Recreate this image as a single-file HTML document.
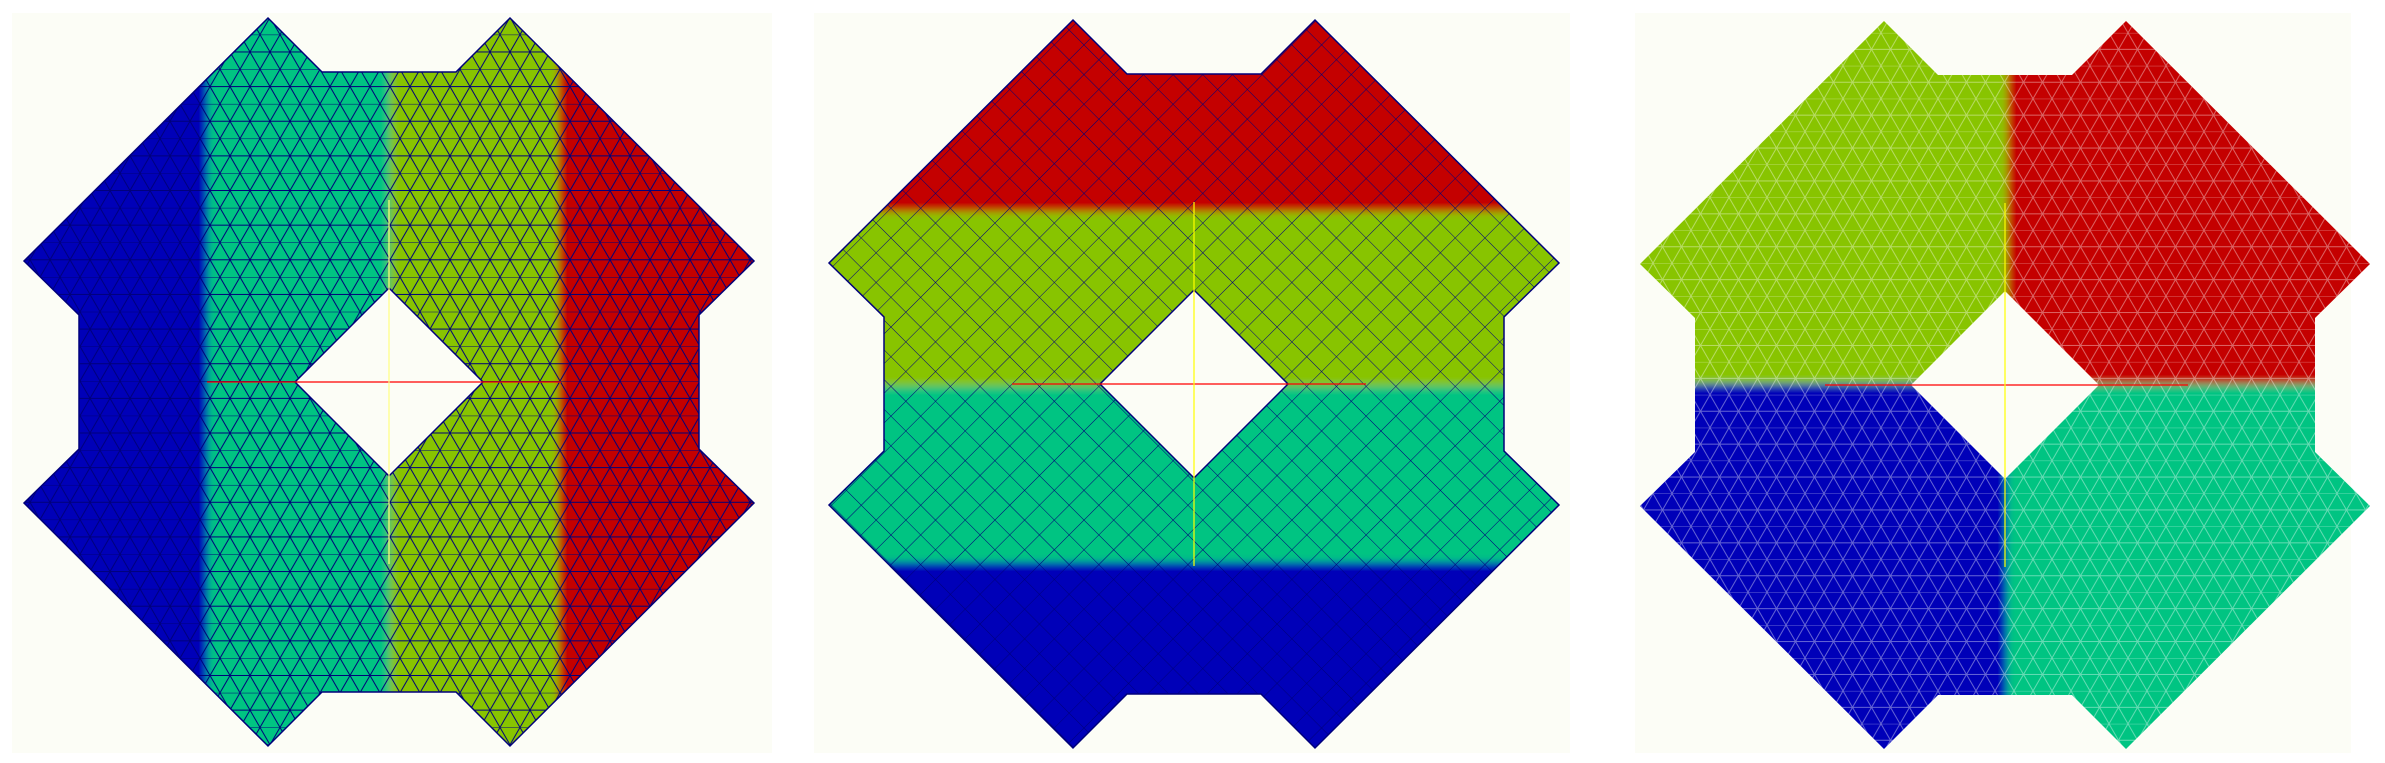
<!DOCTYPE html>
<html><head><meta charset="utf-8">
<style>
html,body{margin:0;padding:0;background:#fff;}
svg{display:block;}
</style></head>
<body>
<svg id="fig" width="2385" height="763" viewBox="0 0 2385 763" xmlns="http://www.w3.org/2000/svg">
<defs>
  <filter id="blur" x="-5%" y="-5%" width="110%" height="110%"><feGaussianBlur stdDeviation="4"/></filter>
  <pattern id="triDark" width="20" height="34.64" patternUnits="userSpaceOnUse">
    <path d="M0,0L20,34.64M20,0L0,34.64M0,0H20M0,17.32H20" stroke="#00007a" stroke-width="1" fill="none"/>
  </pattern>
  <pattern id="quadDark" width="21" height="21" patternUnits="userSpaceOnUse" patternTransform="rotate(45)">
    <path d="M0,0H21M0,0V21" stroke="#00007a" stroke-width="1" fill="none"/>
  </pattern>
  <pattern id="triLight" width="19" height="32.9" patternUnits="userSpaceOnUse">
    <path d="M0,0L19,32.9M19,0L0,32.9M0,0H19M0,16.45H19" stroke="#ffffff" stroke-opacity="0.4" stroke-width="1" fill="none"/>
  </pattern>
</defs>
<g id="root"></g>
</svg>
<script>
// panel layout data
const panelCenters = [[389, 382], [1194, 384], [2005, 385]];
const frames = [[12, 13, 760, 740], [814, 13, 756, 740], [1635, 13, 716, 740]];
// band boundaries
const p1VerticalBreaks = [208, 390, 558];          // blue|teal|green|red
const p2HorizontalBreaks = [212, 386, 562];        // red|green|teal|blue
const p3Split = [2007, 384];                        // quadrant split x, y
const colors = {blue: '#0000b8', teal: '#00c482', green: '#88c400', red: '#c40000'};
const NS = 'http://www.w3.org/2000/svg';
const root = document.getElementById('root');

function mk(tag, attrs, parent) {
  const e = document.createElementNS(NS, tag);
  for (const k in attrs) e.setAttribute(k, attrs[k]);
  (parent || root).appendChild(e);
  return e;
}
function shapePath(cx, cy) {
  const s = [[-121,-364],[-67,-310],[67,-310],[121,-364],[365,-121],[310,-67],[310,67],[365,121],
             [121,364],[67,310],[-67,310],[-121,364],[-365,121],[-310,67],[-310,-67],[-365,-121]];
  let d = 'M' + s.map(p => (cx+p[0]) + ',' + (cy+p[1])).join('L') + 'Z';
  const h = 94;
  d += `M${cx},${cy-h}L${cx+h},${cy}L${cx},${cy+h}L${cx-h},${cy}Z`;
  return d;
}

frames.forEach((f, i) => {
  const r = mk('rect', {x: f[0], y: f[1], width: f[2], height: f[3], fill: '#fcfdf6'});
  
  
});

panelCenters.forEach((c, i) => {
  const [cx, cy] = c;
  const cp = mk('clipPath', {id: 'clip' + i});
  mk('path', {d: shapePath(cx, cy), 'clip-rule': 'evenodd'}, cp);
  const g = mk('g', {'clip-path': `url(#clip${i})`});
  
  
  const bg = mk('g', {filter: 'url(#blur)'}, g);
  if (i === 0) {
    const cols = [colors.blue, colors.teal, colors.green, colors.red];
    const xs = [cx-400].concat(p1VerticalBreaks, [cx+400]);
    for (let k = 0; k < 4; k++) {
      const r = mk('rect', {x: xs[k], y: cy-400, width: xs[k+1]-xs[k], height: 800, fill: cols[k]}, bg);
      
      
    }
    mk('rect', {x: cx-400, y: cy-400, width: 800, height: 800, fill: 'url(#triDark)'}, g);
  } else if (i === 1) {
    const cols = [colors.red, colors.green, colors.teal, colors.blue];
    const ys = [cy-400].concat(p2HorizontalBreaks, [cy+400]);
    for (let k = 0; k < 4; k++) {
      const r = mk('rect', {x: cx-400, y: ys[k], width: 800, height: ys[k+1]-ys[k], fill: cols[k]}, bg);
      
      
    }
    mk('rect', {x: cx-400, y: cy-400, width: 800, height: 800, fill: 'url(#quadDark)'}, g);
  } else {
    const [sx, sy] = p3Split;
    const q = [[cx-400, cy-400, sx-(cx-400), sy-(cy-400), colors.green],
               [sx, cy-400, cx+400-sx, sy-(cy-400), colors.red],
               [cx-400, sy, sx-(cx-400), cy+400-sy, colors.blue],
               [sx, sy, cx+400-sx, cy+400-sy, colors.teal]];
    q.forEach((r, k) => {
      const e = mk('rect', {x: r[0], y: r[1], width: r[2], height: r[3], fill: r[4]}, bg);
      
      
    });
    mk('rect', {x: cx-400, y: cy-400, width: 800, height: 800, fill: 'url(#triLight)'}, g);
  }
  if (i < 2) {
    const o = mk('path', {d: shapePath(cx, cy), fill: 'none', stroke: '#00007a', 'stroke-width': 1.5});
    
    
  }
  const hx = i === 2 ? [cx-180, cx+183] : [cx-182, cx+172];
  const hl = mk('line', {x1: hx[0], y1: cy, x2: hx[1], y2: cy, stroke: '#ff0000', 'stroke-width': 1.2});
  
  
  const vl = mk('line', {x1: cx, y1: cy-182, x2: cx, y2: cy+182, stroke: i === 0 ? '#ffff80' : '#ffff00', 'stroke-width': 1.2});
  
  
});
</script>
</body></html>
